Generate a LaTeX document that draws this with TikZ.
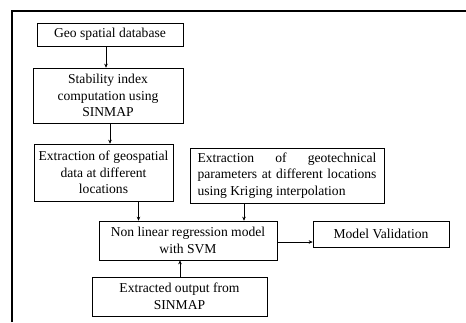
\documentclass[tikz,border=0pt]{standalone}
\usepackage{fontspec}
\setmainfont{Liberation Serif}
\usetikzlibrary{arrows.meta}
\tikzset{
  box/.style={draw, line width=0.6pt, inner sep=0pt, align=center,
    font=\fontsize{13.6}{16.6}\selectfont},
  arr/.style={line width=0.5pt, -{Stealth[length=4pt,width=3.5pt]}},
  frame/.style={line width=2pt}
}
\begin{document}
\begin{tikzpicture}[x=1pt,y=-1pt]
\useasboundingbox (0,0) rectangle (466,322);
\coordinate (fa) at (12,322);
\coordinate (fb) at (12,11);
\coordinate (fc) at (466,11);
\draw[frame] (fa) -- (fb) -- (fc);

\node[box, minimum width=146pt, minimum height=23pt] (g) at (110,34.5) {Geo spatial database};
\node[box, minimum width=150pt, minimum height=55pt] (s) at (108,95.5) {Stability index\\computation using\\SINMAP};
\node[box, minimum width=139pt, minimum height=57pt] (e) at (103.5,172.5) {Extraction of geospatial\\data at different\\locations};
\node[box, minimum width=194pt, minimum height=55pt, align=left] (k) at (287,175.5) {\makebox[179pt][s]{Extraction of geotechnical}\\\makebox[179pt][s]{parameters at different locations}\\using Kriging interpolation};
\node[box, minimum width=178pt, minimum height=39pt] (v) at (188,240.5) {Non linear regression model\\with SVM};
\node[box, minimum width=175pt, minimum height=39pt] (o) at (179.5,296.5) {Extracted output from\\SINMAP};
\node[box, minimum width=136pt, minimum height=26pt] (m) at (381,234) {Model Validation};

\coordinate (a1) at ([xshift=-4pt]g.south);
\draw[arr] (a1) -- (a1 |- s.north);
\coordinate (a2) at ([xshift=2pt]s.south);
\draw[arr] (a2) -- (a2 |- e.north);
\coordinate (a3) at ([xshift=35pt]e.south);
\draw[arr] (a3) -- (a3 |- v.north);
\coordinate (a4) at ([xshift=-43pt]k.south);
\draw[arr] (a4) -- (a4 |- v.north);
\coordinate (a5) at (180,0);
\draw[arr] (a5 |- o.north) -- (a5 |- v.south);
\coordinate (a6) at ([yshift=-1.5pt]v.east);
\draw[arr] (a6) -- (a6 -| m.west);
\end{tikzpicture}
\end{document}
